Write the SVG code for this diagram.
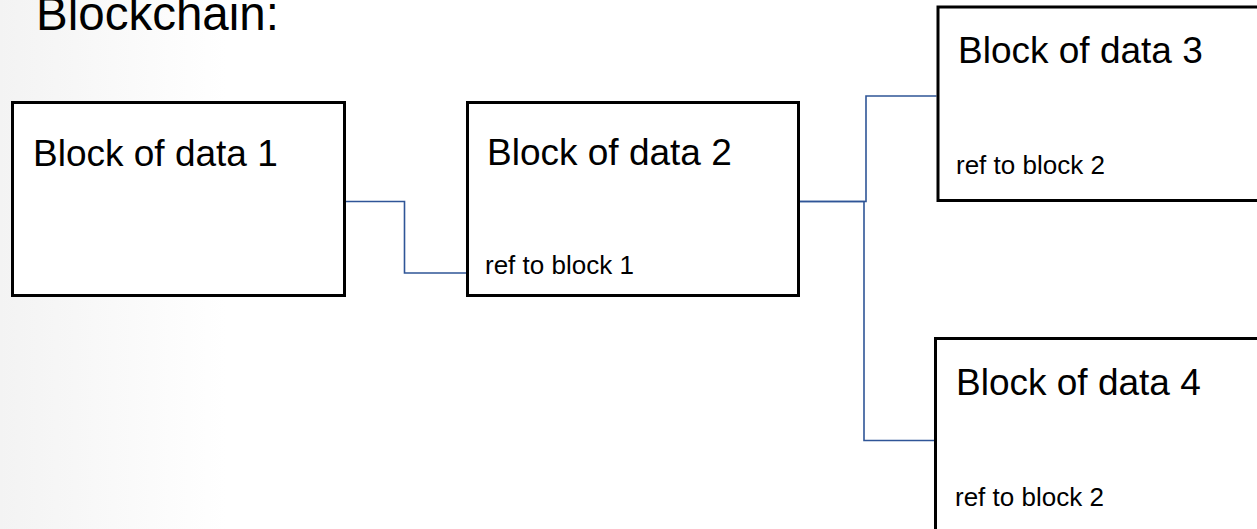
<svg xmlns="http://www.w3.org/2000/svg" width="1257" height="529" viewBox="0 0 1257 529">
  <style>
    .box { fill: #ffffff; stroke: #000000; stroke-width: 3; }
    .title { font-family: "Liberation Sans", Arial, sans-serif; font-size: 47.5px; fill: #000000; }
    .head { font-family: "Liberation Sans", Arial, sans-serif; font-size: 37px; fill: #000000; }
    .ref { font-family: "Liberation Sans", Arial, sans-serif; font-size: 26px; fill: #000000; }
    .link { fill: none; stroke: #2f5597; stroke-width: 1.6; }
  </style>
  <defs>
    <linearGradient id="haze" x1="0" y1="0" x2="1" y2="0">
      <stop offset="0" stop-color="#f3f3f3"/>
      <stop offset="0.18" stop-color="#ffffff"/>
    </linearGradient>
  </defs>

  <!-- page background with a faint shade on the left -->
  <rect x="0" y="0" width="1257" height="529" fill="url(#haze)"/>

  <text class="title" x="36" y="30">Blockchain:</text>

  <!-- connectors between blocks -->
  <g id="connectors">
    <path class="link" d="M 346 201.5 H 404.5 V 273 H 466"/>
    <path class="link" d="M 799 201.5 H 866 V 96 H 936.5"/>
    <path class="link" d="M 799 201.5 H 864 V 440.5 H 934"/>
  </g>

  <g id="block1">
    <rect class="box" x="12.5" y="102.5" width="332" height="193"/>
    <text class="head" x="33" y="166">Block of data 1</text>
  </g>

  <g id="block2">
    <rect class="box" x="467.5" y="102.5" width="331" height="193"/>
    <text class="head" x="487" y="165">Block of data 2</text>
    <text class="ref" x="485" y="274">ref to block 1</text>
  </g>

  <g id="block3">
    <rect class="box" x="938" y="7" width="340" height="193.5"/>
    <text class="head" x="958" y="63">Block of data 3</text>
    <text class="ref" x="956" y="174">ref to block 2</text>
  </g>

  <g id="block4">
    <rect class="box" x="935.5" y="338.5" width="340" height="220"/>
    <text class="head" x="956" y="395">Block of data 4</text>
    <text class="ref" x="955" y="506">ref to block 2</text>
  </g>
</svg>
